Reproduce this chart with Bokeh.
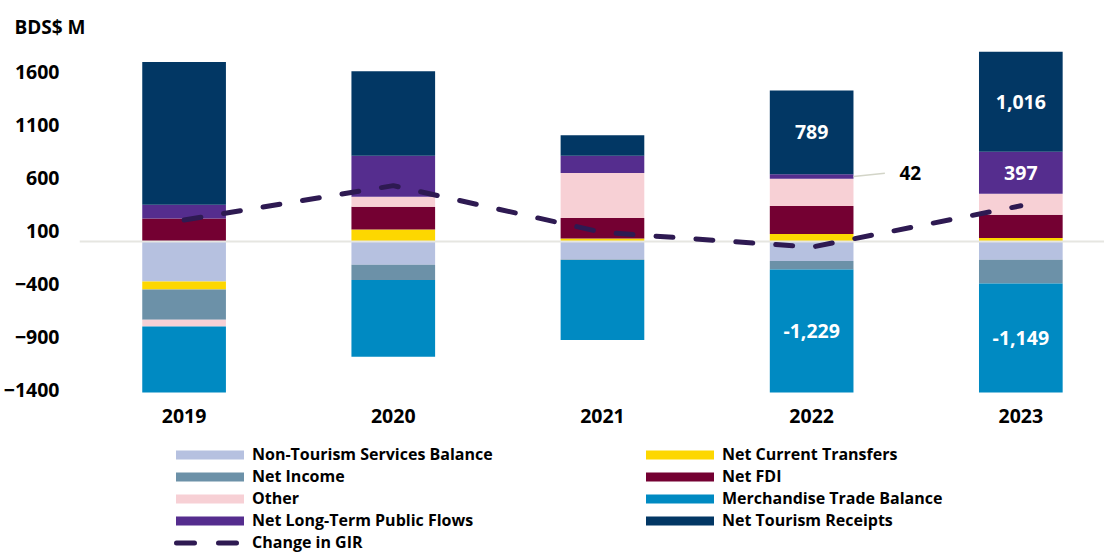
from bokeh.plotting import figure
from bokeh.layouts import column
from bokeh.models import Legend, LegendItem, FixedTicker, Range1d
from bokeh.core.properties import value
from bokeh.embed import file_html
from bokeh.resources import INLINE

# ---------------- data (BDS$ M) ----------------
years = ["2019", "2020", "2021", "2022", "2023"]

non_tourism_services = [-374, -216, -166, -182, -169]
net_current_transfers = [-75, 117, 32, 74, 36]
net_income = [-286, -145, -6, -79, -224]
net_fdi = [221, 214, 193, 264, 220]
other = [-63, 95, 425, 258, 198]
merchandise_trade = [-900, -724, -754, -1229, -1149]
net_lt_public_flows = [129, 387, 163, 42, 397]
net_tourism = [1348, 797, 192, 789, 1016]
change_in_gir = [206, 530, 89, -50, 340]

y_ticks = [-1400, -900, -400, 100, 600, 1100, 1600]

series_names = [
    "Non-Tourism Services Balance", "Net Current Transfers", "Net Income",
    "Net FDI", "Other", "Merchandise Trade Balance",
    "Net Long-Term Public Flows", "Net Tourism Receipts",
]
series_values = [
    non_tourism_services, net_current_transfers, net_income, net_fdi,
    other, merchandise_trade, net_lt_public_flows, net_tourism,
]
series_colors = [
    "#B6C1E0", "#FDD700", "#6C91A8", "#740032",
    "#F7D0D5", "#008AC2", "#552D8E", "#023764",
]
gir_color = "#2E1A52"

# value labels drawn inside bars: (series index, year index)
inside_labels = [(7, 3), (7, 4), (6, 4), (5, 3), (5, 4)]
outside_label = (6, 3)  # "42" with leader

FNAME = "Open Sans"
FONT = value(FNAME)
Y_MIN, Y_MAX = -1422, 1796
W = 1104

p = figure(
    width=W, height=438,
    x_range=Range1d(-0.5, 4.4), y_range=Range1d(Y_MIN, Y_MAX),
    output_backend="svg", toolbar_location=None,
    min_border_left=75, min_border_right=0, min_border_top=51, min_border_bottom=46,
)
p.outline_line_color = None
p.xgrid.grid_line_color = None
p.ygrid.grid_line_color = None

xs = list(range(len(years)))
pos_acc = [0.0] * len(years)
neg_acc = [0.0] * len(years)
bottoms, tops = [], []
for vals, col in zip(series_values, series_colors):
    b, t = [], []
    for i, v in enumerate(vals):
        if v >= 0:
            b.append(pos_acc[i]); t.append(pos_acc[i] + v); pos_acc[i] += v
        else:
            b.append(neg_acc[i]); t.append(neg_acc[i] + v); neg_acc[i] += v
    bottoms.append(b); tops.append(t)
    p.vbar(x=xs, bottom=b, top=t, width=0.4, fill_color=col, line_color=None)

# zero line
p.hspan(y=[0], line_color="#E6E6E1", line_width=2)

# GIR line
p.line(xs, change_in_gir, line_color=gir_color, line_width=5,
       line_dash="17 23", line_cap="round")

# inside labels at middle of visible segment
lx, ly, lt = [], [], []
for s, i in inside_labels:
    lo = max(min(bottoms[s][i], tops[s][i]), Y_MIN)
    hi = min(max(bottoms[s][i], tops[s][i]), Y_MAX)
    lx.append(xs[i]); ly.append((lo + hi) / 2)
    lt.append(f"{series_values[s][i]:,}")
p.text(x=lx, y=ly, text=lt, text_color="white", text_font=FONT,
       text_font_style="bold", text_font_size="19.5px",
       text_align="center", text_baseline="middle")

# outside label with leader
s, i = outside_label
mid = (bottoms[s][i] + tops[s][i]) / 2
p.segment(x0=[xs[i] + 0.2], y0=[mid], x1=[xs[i] + 0.35], y1=[mid + 30],
          line_color="#D3D5C8", line_width=1.5)
p.text(x=[xs[i] + 0.42], y=[mid + 30], text=[f"{series_values[s][i]:,}"],
       text_color="black", text_font=FONT, text_font_style="bold",
       text_font_size="19px", text_align="left", text_baseline="middle")

# axes
p.xaxis.ticker = FixedTicker(ticks=xs)
p.xaxis.major_label_overrides = {i: y for i, y in enumerate(years)}
p.yaxis.ticker = FixedTicker(ticks=y_ticks)
for ax in (p.xaxis[0], p.yaxis[0]):
    ax.axis_line_color = None
    ax.major_tick_line_color = None
    ax.minor_tick_line_color = None
    ax.major_tick_out = 0
    ax.major_tick_in = 0
    ax.major_label_text_font = FNAME
    ax.major_label_text_font_style = "bold"
    ax.major_label_text_font_size = "19.5px"
    ax.major_label_text_color = "black"
p.xaxis.major_label_standoff = 16
p.yaxis.major_label_standoff = 20

# title
p.title.text = "BDS$ M"
p.title.text_font = FNAME
p.title.text_font_style = "bold"
p.title.text_font_size = "19px"
p.title.text_color = "black"
p.title.align = "left"
p.title.offset = -65
p.title.standoff = 23

# ---------------- legend figure ----------------
q = figure(
    width=W, height=115, x_range=Range1d(100, 101), y_range=Range1d(1e5, 1e5 + 1),
    output_backend="svg", toolbar_location=None,
    x_axis_location=None, y_axis_location=None,
    min_border_left=75, min_border_right=0, min_border_top=0, min_border_bottom=0,
)
q.outline_line_color = None
q.xgrid.grid_line_color = None
q.ygrid.grid_line_color = None
# legend proxies (same data, outside this figure's visible ranges)
proxies = [q.vbar(x=xs, bottom=b, top=t, width=0.4, fill_color=c, line_color=None)
           for b, t, c in zip(bottoms, tops, series_colors)]
gir_proxy = q.line(xs, change_in_gir, line_color=gir_color, line_width=5,
                   line_dash="18 24", line_dash_offset=33, line_cap="round")

items = [LegendItem(label=n, renderers=[r]) for n, r in zip(series_names, proxies)]
items.append(LegendItem(label="Change in GIR", renderers=[gir_proxy]))
legend = Legend(items=items, orientation="horizontal", ncols=2,
                location=(88, 0), padding=0, margin=0, spacing=0,
                glyph_width=85, glyph_height=11, label_standoff=0,
                label_width=385, label_height=18,
                label_text_font=FNAME, label_text_font_style="bold",
                label_text_font_size="16px", label_text_color="black",
                border_line_color=None, background_fill_alpha=0)
q.add_layout(legend, "center")

layout = column(p, q, spacing=0)
open("out.html", "w").write(file_html(layout, INLINE))
